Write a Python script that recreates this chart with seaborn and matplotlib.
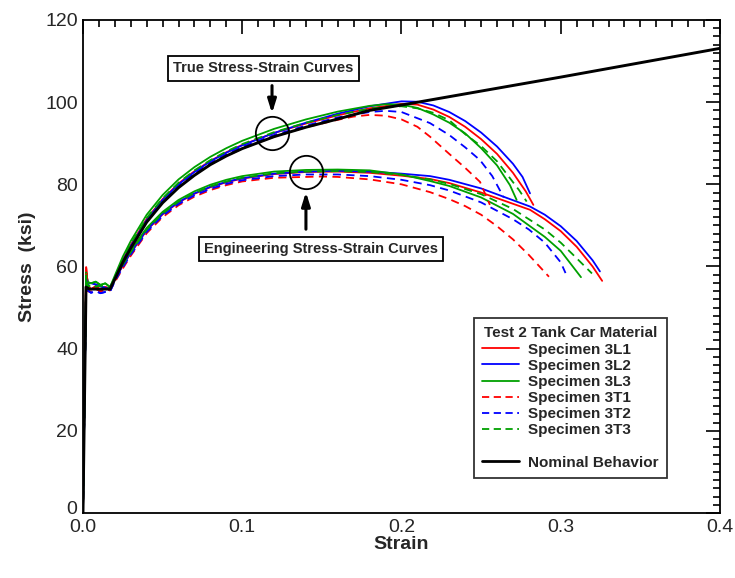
import numpy as np
import pandas as pd
import matplotlib
matplotlib.use("Agg")
import matplotlib.pyplot as plt
import matplotlib.transforms as mtransforms
from matplotlib.lines import Line2D
from matplotlib.ticker import MultipleLocator
import seaborn as sns

# ---------------- data ----------------
specimens = ["Specimen 3L1", "Specimen 3L2", "Specimen 3L3",
             "Specimen 3T1", "Specimen 3T2", "Specimen 3T3"]

# yield plateau (shared start, slightly different per specimen)
plateau_x = [0.0, 0.002, 0.003, 0.005, 0.008, 0.011, 0.014, 0.017]
plateau_y = {
    "Specimen 3L1": [0.0, 59.8, 55.5, 54.4, 55.2, 54.3, 55.0, 54.6],
    "Specimen 3L2": [0.0, 57.5, 55.8, 56.0, 55.6, 55.2, 54.8, 54.5],
    "Specimen 3L3": [0.0, 58.5, 56.2, 55.9, 56.3, 55.5, 55.9, 55.0],
    "Specimen 3T1": [0.0, 58.8, 54.0, 53.8, 54.6, 53.9, 54.4, 54.2],
    "Specimen 3T2": [0.0, 57.0, 54.2, 53.6, 54.0, 53.5, 53.8, 53.9],
    "Specimen 3T3": [0.0, 57.8, 55.0, 55.6, 55.1, 55.4, 55.0, 54.8],
}

rise_x = [0.02, 0.025, 0.03, 0.04, 0.05, 0.06, 0.07, 0.08, 0.09, 0.10, 0.12, 0.14]

# engineering stress-strain
eng_rise_y = {
    "Specimen 3L1": [56.8, 60.2, 63.3, 68.8, 72.7, 75.6, 77.7, 79.3, 80.5, 81.4, 82.5, 83.0],
    "Specimen 3L2": [56.8, 60.3, 63.4, 68.9, 72.8, 75.7, 77.8, 79.4, 80.6, 81.5, 82.6, 83.1],
    "Specimen 3L3": [57.3, 60.8, 63.9, 69.4, 73.3, 76.2, 78.3, 79.9, 81.1, 82.0, 83.1, 83.5],
    "Specimen 3T1": [56.2, 59.5, 62.6, 68.1, 72.0, 74.9, 77.0, 78.6, 79.8, 80.7, 81.6, 81.8],
    "Specimen 3T2": [56.4, 59.8, 62.9, 68.4, 72.3, 75.2, 77.3, 78.9, 80.1, 81.0, 82.0, 82.4],
    "Specimen 3T3": [57.0, 60.4, 63.5, 69.0, 72.9, 75.8, 77.9, 79.5, 80.7, 81.6, 82.7, 83.1],
}
eng_tail_x = {
    "Specimen 3L1": [0.16, 0.18, 0.20, 0.2179, 0.23, 0.25, 0.2807, 0.29, 0.30, 0.31, 0.32, 0.326],
    "Specimen 3L2": [0.16, 0.18, 0.20, 0.2179, 0.23, 0.25, 0.2807, 0.29, 0.30, 0.31, 0.32, 0.3246],
    "Specimen 3L3": [0.16, 0.18, 0.20, 0.2179, 0.23, 0.25, 0.27, 0.29, 0.30, 0.3127],
    "Specimen 3T1": [0.15, 0.16, 0.18, 0.20, 0.2179, 0.23, 0.24, 0.25, 0.26, 0.27, 0.28, 0.2926],
    "Specimen 3T2": [0.16, 0.18, 0.20, 0.2179, 0.23, 0.25, 0.27, 0.28, 0.29, 0.30, 0.303],
    "Specimen 3T3": [0.16, 0.18, 0.20, 0.2179, 0.23, 0.25, 0.27, 0.29, 0.30, 0.31, 0.3196],
}
eng_tail_y = {
    "Specimen 3L1": [83.1, 82.8, 82.1, 81.3, 80.3, 78.0, 73.8, 71.5, 68.6, 64.8, 60.0, 56.5],
    "Specimen 3L2": [83.3, 83.1, 82.6, 82.0, 81.1, 79.0, 74.6, 72.6, 69.8, 66.2, 61.5, 58.8],
    "Specimen 3L3": [83.6, 83.4, 82.4, 80.8, 79.6, 76.8, 72.8, 67.2, 63.8, 57.4],
    "Specimen 3T1": [81.9, 81.8, 81.2, 80.0, 78.1, 76.4, 74.7, 72.6, 69.8, 66.6, 62.8, 57.5],
    "Specimen 3T2": [82.4, 82.0, 81.1, 79.8, 78.5, 75.6, 71.5, 69.0, 65.8, 61.0, 58.4],
    "Specimen 3T3": [83.2, 83.0, 82.3, 81.2, 80.1, 77.6, 74.0, 69.0, 65.8, 62.0, 58.3],
}

# true stress-strain
true_rise_y = {
    "Specimen 3L1": [57.2, 61.6, 65.3, 71.6, 76.4, 80.2, 83.2, 85.7, 87.8, 89.6, 92.5, 94.8],
    "Specimen 3L2": [57.0, 61.3, 65.0, 71.3, 76.2, 80.0, 83.0, 85.6, 87.7, 89.5, 92.5, 95.0],
    "Specimen 3L3": [57.8, 62.4, 66.2, 72.6, 77.4, 81.2, 84.2, 86.7, 88.8, 90.6, 93.5, 95.8],
    "Specimen 3T1": [56.8, 61.0, 64.6, 70.8, 75.6, 79.3, 82.3, 84.8, 86.9, 88.7, 91.6, 93.9],
    "Specimen 3T2": [56.6, 61.0, 64.7, 71.0, 75.9, 79.7, 82.7, 85.2, 87.3, 89.1, 92.0, 94.3],
    "Specimen 3T3": [57.4, 61.8, 65.5, 71.8, 76.6, 80.4, 83.4, 85.9, 88.0, 89.8, 92.7, 95.0],
}
true_tail_x = {
    "Specimen 3L1": [0.16, 0.18, 0.20, 0.21, 0.22, 0.23, 0.24, 0.25, 0.26, 0.27, 0.278, 0.2828],
    "Specimen 3L2": [0.16, 0.18, 0.20, 0.21, 0.22, 0.23, 0.24, 0.25, 0.26, 0.27, 0.276, 0.2807],
    "Specimen 3L3": [0.16, 0.18, 0.19, 0.20, 0.21, 0.22, 0.23, 0.24, 0.25, 0.26, 0.2681, 0.2723],
    "Specimen 3T1": [0.16, 0.17, 0.18, 0.19, 0.20, 0.21, 0.2179, 0.23, 0.24, 0.2493, 0.2555],
    "Specimen 3T2": [0.16, 0.18, 0.19, 0.20, 0.2179, 0.23, 0.24, 0.2493, 0.257, 0.2642],
    "Specimen 3T3": [0.16, 0.18, 0.19, 0.20, 0.21, 0.22, 0.23, 0.24, 0.25, 0.26, 0.2681, 0.274, 0.2786],
}
true_tail_y = {
    "Specimen 3L1": [96.8, 98.5, 99.6, 99.4, 98.2, 96.4, 94.0, 91.0, 87.4, 82.8, 78.3, 75.0],
    "Specimen 3L2": [97.2, 99.0, 100.2, 100.1, 99.2, 97.6, 95.4, 92.6, 89.2, 85.0, 81.8, 77.8],
    "Specimen 3L3": [97.7, 99.1, 99.5, 99.4, 98.6, 97.0, 95.0, 92.4, 88.8, 84.6, 79.8, 76.2],
    "Specimen 3T1": [95.7, 96.5, 96.9, 96.7, 95.8, 94.0, 91.6, 87.4, 84.0, 80.6, 75.0],
    "Specimen 3T2": [96.3, 97.6, 97.9, 97.6, 94.9, 92.0, 89.0, 85.9, 82.0, 76.8],
    "Specimen 3T3": [96.9, 98.4, 98.9, 99.0, 98.5, 97.4, 95.6, 92.2, 89.3, 85.6, 81.5, 78.5, 75.8],
}

# nominal behaviour
nominal_x = [0.0, 0.0019, 0.004, 0.017, 0.025, 0.03, 0.04, 0.05, 0.06, 0.07, 0.08, 0.09,
             0.10, 0.12, 0.14, 0.16, 0.18, 0.20, 0.25, 0.30, 0.35, 0.40]
nominal_y = [0.0, 55.0, 54.5, 54.5, 61.0, 64.5, 70.8, 75.5, 79.2, 82.2, 84.8, 86.9,
             88.7, 91.6, 93.9, 95.9, 98.0, 99.3, 102.7, 106.1, 109.6, 113.1]

x_ticks = [0.0, 0.1, 0.2, 0.3, 0.4]
x_tick_labels = ["0.0", "0.1", "0.2", "0.3", "0.4"]
y_ticks = [0, 20, 40, 60, 80, 100, 120]

colors = {"Specimen 3L1": "#ff0000", "Specimen 3L2": "#0000ff", "Specimen 3L3": "#00a000",
          "Specimen 3T1": "#ff0000", "Specimen 3T2": "#0000ff", "Specimen 3T3": "#00a000"}
dashed = {"Specimen 3L1": False, "Specimen 3L2": False, "Specimen 3L3": False,
          "Specimen 3T1": True, "Specimen 3T2": True, "Specimen 3T3": True}

# annotation anchors (data coordinates)
true_label_xy = (0.1134, 108.2)
true_circle_xy = (0.1187, 92.4)
eng_label_xy = (0.1494, 64.3)
eng_circle_xy = (0.1400, 83.0)

# ---------------- build long table ----------------
rows = []
for s in specimens:
    ex = plateau_x + rise_x + eng_tail_x[s]
    ey = plateau_y[s] + eng_rise_y[s] + eng_tail_y[s]
    for i, (a, b) in enumerate(zip(ex, ey)):
        rows.append((s, "eng", i, a, b))
    tx = plateau_x + rise_x + true_tail_x[s]
    ty = plateau_y[s] + true_rise_y[s] + true_tail_y[s]
    for i, (a, b) in enumerate(zip(tx, ty)):
        rows.append((s, "true", i, a, b))
df = pd.DataFrame(rows, columns=["specimen", "kind", "order", "strain", "stress"])

# ---------------- plot ----------------
sns.set_style("white")
plt.rcParams["font.family"] = ["Liberation Sans", "DejaVu Sans"]

fig = plt.figure(figsize=(7.35, 5.78), dpi=100)
ax = fig.add_axes([0.1129, 0.1125, 0.8667, 0.8529])

for s in specimens:
    for kind in ["eng", "true"]:
        sub = df[(df.specimen == s) & (df.kind == kind)].sort_values("order")
        sns.lineplot(data=sub, x="strain", y="stress", sort=False, estimator=None,
                     color=colors[s], lw=1.3, ax=ax, legend=False,
                     linestyle=(0, (4.5, 3)) if dashed[s] else "-")

sns.lineplot(x=nominal_x, y=nominal_y, sort=False, estimator=None,
             color="black", lw=2.1, ax=ax, legend=False)

ax.set_xlim(0, 0.4)
ax.set_ylim(0, 120)
ax.set_xticks(x_ticks)
ax.set_xticklabels(x_tick_labels)
ax.set_yticks(y_ticks)
ax.xaxis.set_minor_locator(MultipleLocator(0.01))
ax.yaxis.set_minor_locator(MultipleLocator(2))
ax.tick_params(which="both", direction="in", top=True, right=True,
               labelsize=14, width=1.2, color="black")
ax.tick_params(which="major", length=10)
ax.tick_params(which="minor", length=5)
ax.tick_params(axis="x", which="major", pad=4.5)
ax.tick_params(axis="y", which="major", pad=3.5)
for sp in ax.spines.values():
    sp.set_visible(True)
    sp.set_color("black")
    sp.set_linewidth(1.3)

ax.set_xlabel("Strain", fontsize=14, fontweight="bold", labelpad=0)
ax.set_ylabel("Stress  (ksi)", fontsize=14, fontweight="bold", labelpad=7)

# keep the y "0" label clear of the x "0.0" label
fig.canvas.draw()
ylab0 = ax.get_yticklabels()[0]
ylab0.set_transform(ylab0.get_transform() +
                    mtransforms.ScaledTranslation(-1 / 72, 4 / 72, fig.dpi_scale_trans))

# annotations
boxprops = dict(boxstyle="square,pad=0.35", fc="white", ec="black", lw=1.3)
ax.text(*true_label_xy, "True Stress-Strain Curves", ha="center", va="center",
        fontsize=10.5, fontweight="bold", bbox=boxprops, zorder=10)
ax.text(*eng_label_xy, "Engineering Stress-Strain Curves", ha="center", va="center",
        fontsize=10.5, fontweight="bold", bbox=boxprops, zorder=10)
ax.plot(*true_circle_xy, marker="o", ms=24, mfc="none", mec="black", mew=1.3, zorder=11)
ax.plot(*eng_circle_xy, marker="o", ms=24, mfc="none", mec="black", mew=1.3, zorder=11)
ax.annotate("", xy=(true_circle_xy[0], 96.6), xytext=(true_circle_xy[0], 104.7),
            arrowprops=dict(arrowstyle="-|>,head_length=0.8,head_width=0.25", color="black", lw=2.2),
            zorder=11)
ax.annotate("", xy=(eng_circle_xy[0], 78.8), xytext=(eng_circle_xy[0], 68.4),
            arrowprops=dict(arrowstyle="-|>,head_length=0.8,head_width=0.25", color="black", lw=2.2),
            zorder=11)

# legend
handles = []
for s in specimens:
    handles.append(Line2D([], [], color=colors[s], lw=1.3,
                          linestyle=(0, (4, 2.5)) if dashed[s] else "-", label=s))
handles.append(Line2D([], [], color="none", label=" "))
handles.append(Line2D([], [], color="black", lw=2.0, label="Nominal Behavior"))
leg = ax.legend(handles=handles, title="Test 2 Tank Car Material",
                loc="lower right", bbox_to_anchor=(0.9168, 0.071), borderaxespad=0,
                frameon=True, fancybox=False, edgecolor="black",
                prop=dict(weight="bold", size=11),
                title_fontproperties=dict(weight="bold", size=11),
                handlelength=2.4, labelspacing=0.14, borderpad=0.55, handletextpad=0.6)
leg.get_frame().set_linewidth(1.3)

fig.savefig("out.png", dpi=100)
